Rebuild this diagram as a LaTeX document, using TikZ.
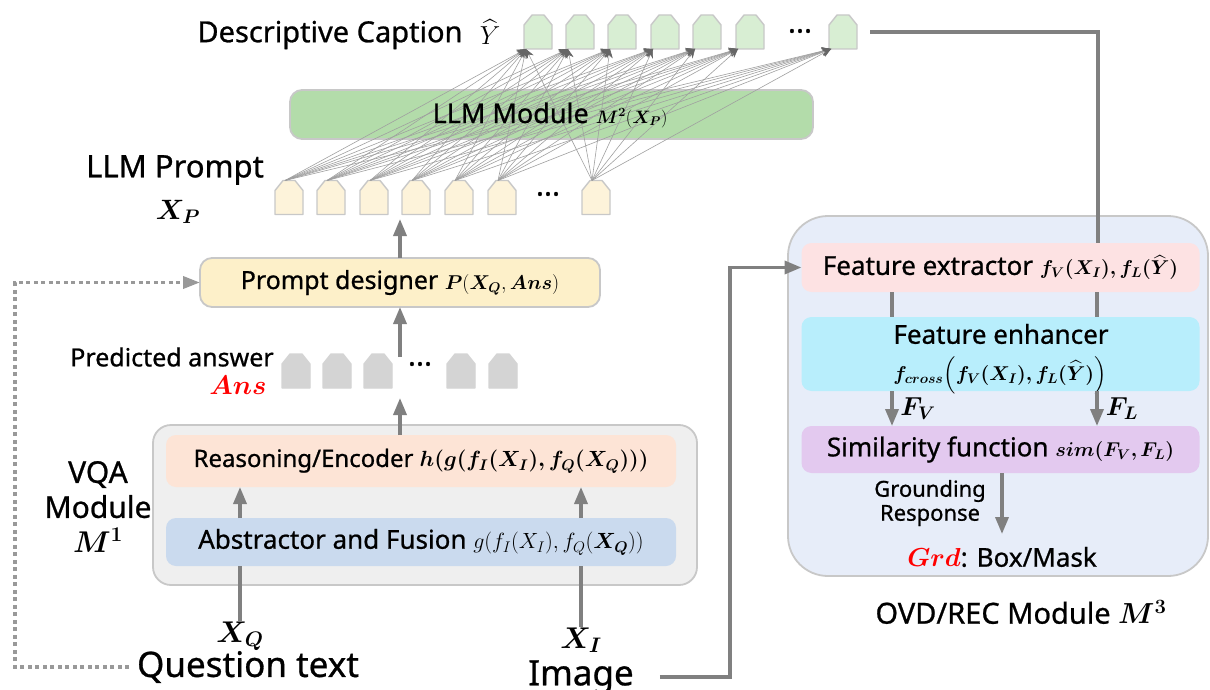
\RequirePackage{fix-cm}
\documentclass[tikz,border=0pt]{standalone}
\usepackage{amsmath}
\usepackage{bm}
\usepackage{fontspec}
\setmainfont{Noto Sans}[FakeBold=0.8]
\usetikzlibrary{arrows.meta,calc}
\definecolor{arrgray}{HTML}{808080}
\definecolor{dotgray}{HTML}{999999}
\definecolor{bordgray}{HTML}{C8C8C8}
\definecolor{conngray}{HTML}{A0A0A0}
\definecolor{headgray}{HTML}{666666}
\definecolor{ctokfill}{HTML}{D8EED3}
\definecolor{ptokfill}{HTML}{FDF3DA}
\definecolor{atokfill}{HTML}{D4D4D4}
\definecolor{llmfill}{HTML}{B3DCAA}
\definecolor{pdfill}{HTML}{FDF0C9}
\definecolor{vqafill}{HTML}{EFEFEF}
\definecolor{reasonfill}{HTML}{FDE4D6}
\definecolor{abstrfill}{HTML}{CADAEE}
\definecolor{ovdfill}{HTML}{E7EDF9}
\definecolor{fefill}{HTML}{FDE2E3}
\definecolor{fenfill}{HTML}{B8EEFC}
\definecolor{simfill}{HTML}{E3C9EF}
\definecolor{ansred}{HTML}{FF0000}
\newcommand{\fsz}[1]{\fontsize{#1}{#1}\selectfont}
\newcommand{\tokpath}[2]{%
  \path[draw=#2,line width=1.4pt,fill=#1,line join=round]
    (-14,17) -- (-14,-7) -- (-6,-17) -- (6,-17) -- (14,-7) -- (14,17) -- cycle;
  \coordinate (-t) at (-4,-17);
  \coordinate (-b) at (-12,17);
  \coordinate (-r) at (14,0);}
\tikzset{
  pics/ctok/.style={code={\tokpath{ctokfill}{bordgray}}},
  pics/ptok/.style={code={\tokpath{ptokfill}{bordgray}}},
  pics/atok/.style={code={\tokpath{atokfill}{atokfill}}},
}
\begin{document}
\begin{tikzpicture}[x=1pt,y=-1pt,
  every node/.style={inner sep=0pt,outer sep=0pt,text=black},
  thk/.style={draw=arrgray,line width=3.5pt},
  arr/.style={thk,-{Triangle[length=17pt,width=13pt]}},
  dotarr/.style={draw=dotgray,line width=3.5pt,dash pattern=on 4pt off 3.5pt,-{Triangle[length=17pt,width=12pt]}},
  conn/.style={draw=conngray,line width=0.6pt,-{Stealth[length=9pt,width=8pt,color=headgray]}},
  gbox/.style={draw=bordgray,line width=1.8pt},
  ibox/.style={draw=none,rounded corners=10pt,minimum width=398pt},
  dots/.style={font=\fontsize{30}{30}\selectfont\bfseries},
]
\useasboundingbox (0,0) rectangle (1210,690);
\fill[white] (0,0) rectangle (1210,690);

% ---------- caption tokens ----------
\foreach \x [count=\i] in {538,580,622,665,707,750,843} \pic (c\i) at (\x,32) {ctok};
\node (dc) at (330,35) {\fsz{29}Descriptive Caption};
\node (yhat) at (490,32) {\fsz{26}$\widehat{Y}$};
\node[dots] (cdots) at (800,31) {...};

% ---------- LLM module ----------
\node[gbox,fill=llmfill,rounded corners=12pt,minimum width=523pt,minimum height=49pt] (llm) at (551.5,114.5) {};

% ---------- prompt tokens ----------
\foreach \x [count=\i] in {289,331,374,416,459,502,596} \pic (p\i) at (\x,197.5) {ptok};
\node[dots] (pdots) at (548,194) {...};

% fully connected prompt -> caption
\foreach \i in {1,...,7}{\foreach \j in {1,...,7}{\draw[conn] (p\i-t) -- (c\j-b);}}
\node (llmt) at (550,115) {\fsz{27}LLM Module \fsz{18}$\bm{M^{2}}(\bm{X_{P}})$};

\node (lp) at (175,170) {\fsz{31}LLM Prompt};
\node (xp) at (178,212) {\fsz{28}$\bm{X_P}$};

% ---------- prompt designer ----------
\node[gbox,fill=pdfill,rounded corners=12pt,minimum width=400pt,minimum height=49pt] (pd) at (400,282.5)
  {\fsz{25}Prompt designer \fsz{20}$\bm{P}(\bm{X_Q},\bm{Ans})$};

% ---------- predicted answer ----------
\foreach \x [count=\i] in {296,337,378,461,503} \pic (a\i) at (\x,371) {atok};
\node[dots] (adots) at (420,364) {...};
\node (pa) at (172,357) {\fsz{25}Predicted answer};
\node (ans) at (238,385) {\fsz{27}\color{ansred}$\bm{Ans}$};

% ---------- VQA module ----------
\node[gbox,fill=vqafill,rounded corners=18pt,minimum width=544pt,minimum height=160pt] (vqa) at (425,505) {};
\node[ibox,fill=reasonfill,minimum width=510pt,minimum height=52pt] (re) at (421,461)
  {\fsz{24}Reasoning/Encoder \fsz{22}$\bm{h(g(f_I(X_I), f_Q(X_Q)))}$};
\node[ibox,fill=abstrfill,minimum width=510pt,minimum height=48pt] (ab) at (421,542)
  {\fsz{26}Abstractor and Fusion \fsz{22}$g(f_I(X_I), f_Q(\bm{X_Q}))$};
\node[align=center,font=\fontsize{30}{35}\selectfont] (vqal) at (98,507) {VQA\\Module\\$\bm{M^1}$};

\node (xq) at (240,636) {\fsz{30}$\bm{X_Q}$};
\node (qt) at (248,667) {\fsz{35}Question text};
\node (xi) at (581,640) {\fsz{30}$\bm{X_I}$};
\node (img) at (581,677) {\fsz{35}Image};

% ---------- OVD/REC module ----------
\node[gbox,fill=ovdfill,rounded corners=40pt,minimum width=420pt,minimum height=360pt] (ovd) at (998,396) {};
\node[ibox,fill=fefill,minimum height=49pt] (fe) at (1000.5,267.5)
  {\fsz{26}Feature extractor \fsz{20}$\bm{f_V(X_I), f_L(\widehat{Y})}$};
\node[ibox,fill=fenfill,minimum height=74pt] (fen) at (1000.5,354) {};
\node (fent) at (1001,334) {\fsz{26}Feature enhancer};
\node (fenm) at (1000,375) {\fsz{20}$\bm{f_{cross}\Big(f_V(X_I), f_L(\widehat{Y})\Big)}$};
\node[ibox,fill=simfill,minimum height=47pt] (sim) at (1000.5,449.5)
  {\fsz{26}Similarity function \fsz{20}$\bm{sim(F_V, F_L)}$};
\node (fv) at (918,409) {\fsz{26}$\bm{F_V}$};
\node (fl) at (1122,409) {\fsz{26}$\bm{F_L}$};
\node[align=center,font=\fontsize{22}{24}\selectfont] (gr) at (930,503) {Grounding\\Response};
\node (grd) at (1002,557) {\fsz{26}{\color{ansred}$\bm{Grd}$}: Box/Mask};
\node (ovdl) at (1021,612) {\fsz{29}OVD/REC Module $\bm{M^3}$};

% ---------- connectors ----------
\coordinate (dl) at (15,470);
\draw[dotarr] ([xshift=-8pt]qt.west) -| (dl) |- (pd.west);

\coordinate (ic) at (730,470);
\draw[arr] ([xshift=26pt]img.east) -| (ic) |- (fe.west);

\coordinate (cc) at (1098,100);
\draw[thk] ([xshift=13pt]c7-r) -| (cc |- fe.north);

\coordinate (pin) at (400,219);
\draw[arr] (pd.north) -- (pin);
\coordinate (aout) at (400,357);
\draw[arr] (aout) -- (pd.south);
\coordinate (ain) at (400,398);
\draw[arr] (re.north -| ain) -- (ain);

\draw[thk] (xq.north) -- (xq.north |- ab.south);
\draw[arr] (xq.north |- ab.north) -- (xq.north |- re.south);
\draw[thk] (xi.north) -- (xi.north |- ab.south);
\draw[arr] (xi.north |- ab.north) -- (xi.north |- re.south);

\coordinate (vx) at (892,300);
\coordinate (lx) at (1097,300);
\coordinate (gtip) at (1002,534);
\draw[thk] (fe.south -| vx) -- (fen.north -| vx);
\draw[thk] (fe.south -| lx) -- (fen.north -| lx);
\draw[arr] (fen.south -| vx) -- (sim.north -| vx);
\draw[arr] (fen.south -| lx) -- (sim.north -| lx);
\draw[arr] (sim.south -| gtip) -- (gtip);
\end{tikzpicture}
\end{document}
